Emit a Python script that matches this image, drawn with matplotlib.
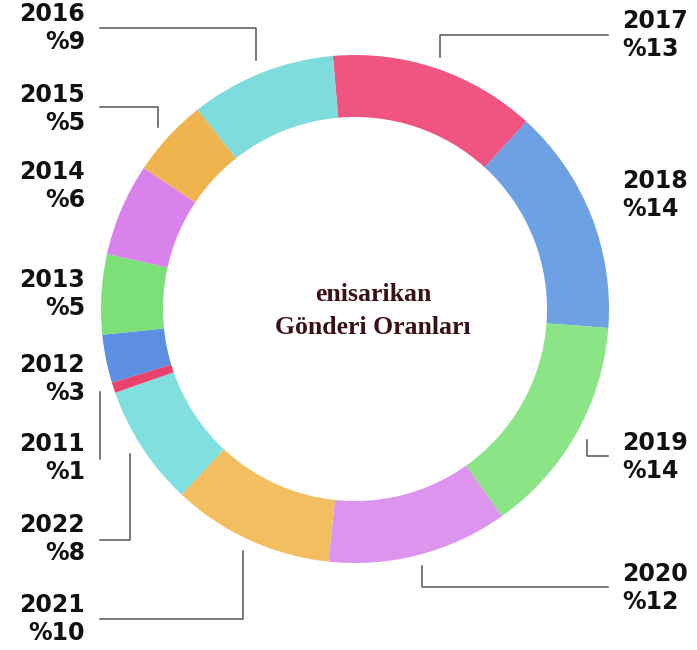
import matplotlib.pyplot as plt

# donut data, clockwise from the top
years = ["2017", "2018", "2019", "2020", "2021", "2022",
         "2011", "2012", "2013", "2014", "2015", "2016"]
# wedge sizes as measured from the ring, and the rounded % shown in labels
shares = [13.2, 14.4, 14.0, 11.5, 10.3, 7.7, 0.67, 3.06, 5.1, 5.9, 5.0, 9.25]
shown = [13, 14, 14, 12, 10, 8, 1, 3, 5, 6, 5, 9]
colors = ["#ef5580", "#6ea1e3", "#8be486", "#dd94ee", "#f2be5f", "#80dfdf",
          "#e9436c", "#5c8fe0", "#7ddf77", "#d982ec", "#f0b44e", "#7edcdc"]

W, H = 697, 650

def py(y):  # pixel row from top -> axes y
    return H - y

fig = plt.figure(figsize=(W / 100, H / 100), dpi=100)
ax = fig.add_axes([0, 0, 1, 1])

ax.pie(shares, colors=colors, startangle=95, counterclock=False,
       center=(355, py(309)), radius=254, frame=True,
       wedgeprops=dict(width=62, linewidth=0))
ax.set_xlim(0, W)
ax.set_ylim(0, H)
ax.axis("off")

ax.text(373, py(311), "enisarikan\nGönderi Oranları", ha="center", va="center",
        family="Liberation Serif", weight="bold", fontsize=18.5, color="#3b1016",
        linespacing=1.6)

# label block placement (x, y centre, side)
label_pos = {
    "2016": (85, 28, "right"), "2015": (85, 109, "right"),
    "2014": (85, 186, "right"), "2013": (85, 294, "right"),
    "2012": (85, 379, "right"), "2011": (85, 458, "right"),
    "2022": (85, 539, "right"), "2021": (85, 619, "right"),
    "2017": (622, 35, "left"), "2018": (622, 195, "left"),
    "2019": (622, 457, "left"), "2020": (622, 588, "left"),
}
for yr, s in zip(years, shown):
    x, y, side = label_pos[yr]
    ax.text(x, py(y), f"{yr}\n%{s}", ha=side, va="center", multialignment=side,
            fontsize=17, weight="bold", color="#111111", linespacing=1.2,
            family="DejaVu Sans")

# leader lines
leaders = [
    [(100, 28), (256, 28), (256, 60)],
    [(100, 107), (158, 107), (158, 127)],
    [(100, 392), (100, 459)],
    [(100, 540), (130, 540), (130, 454)],
    [(100, 619), (243, 619), (243, 551)],
    [(608, 587), (422, 587), (422, 566)],
    [(608, 456), (587, 456), (587, 440)],
    [(608, 35), (440, 35), (440, 57)],
]
for pts in leaders:
    ax.plot([p[0] for p in pts], [py(p[1]) for p in pts], color="#555555", lw=1.1)

fig.savefig("out.png", dpi=100)
